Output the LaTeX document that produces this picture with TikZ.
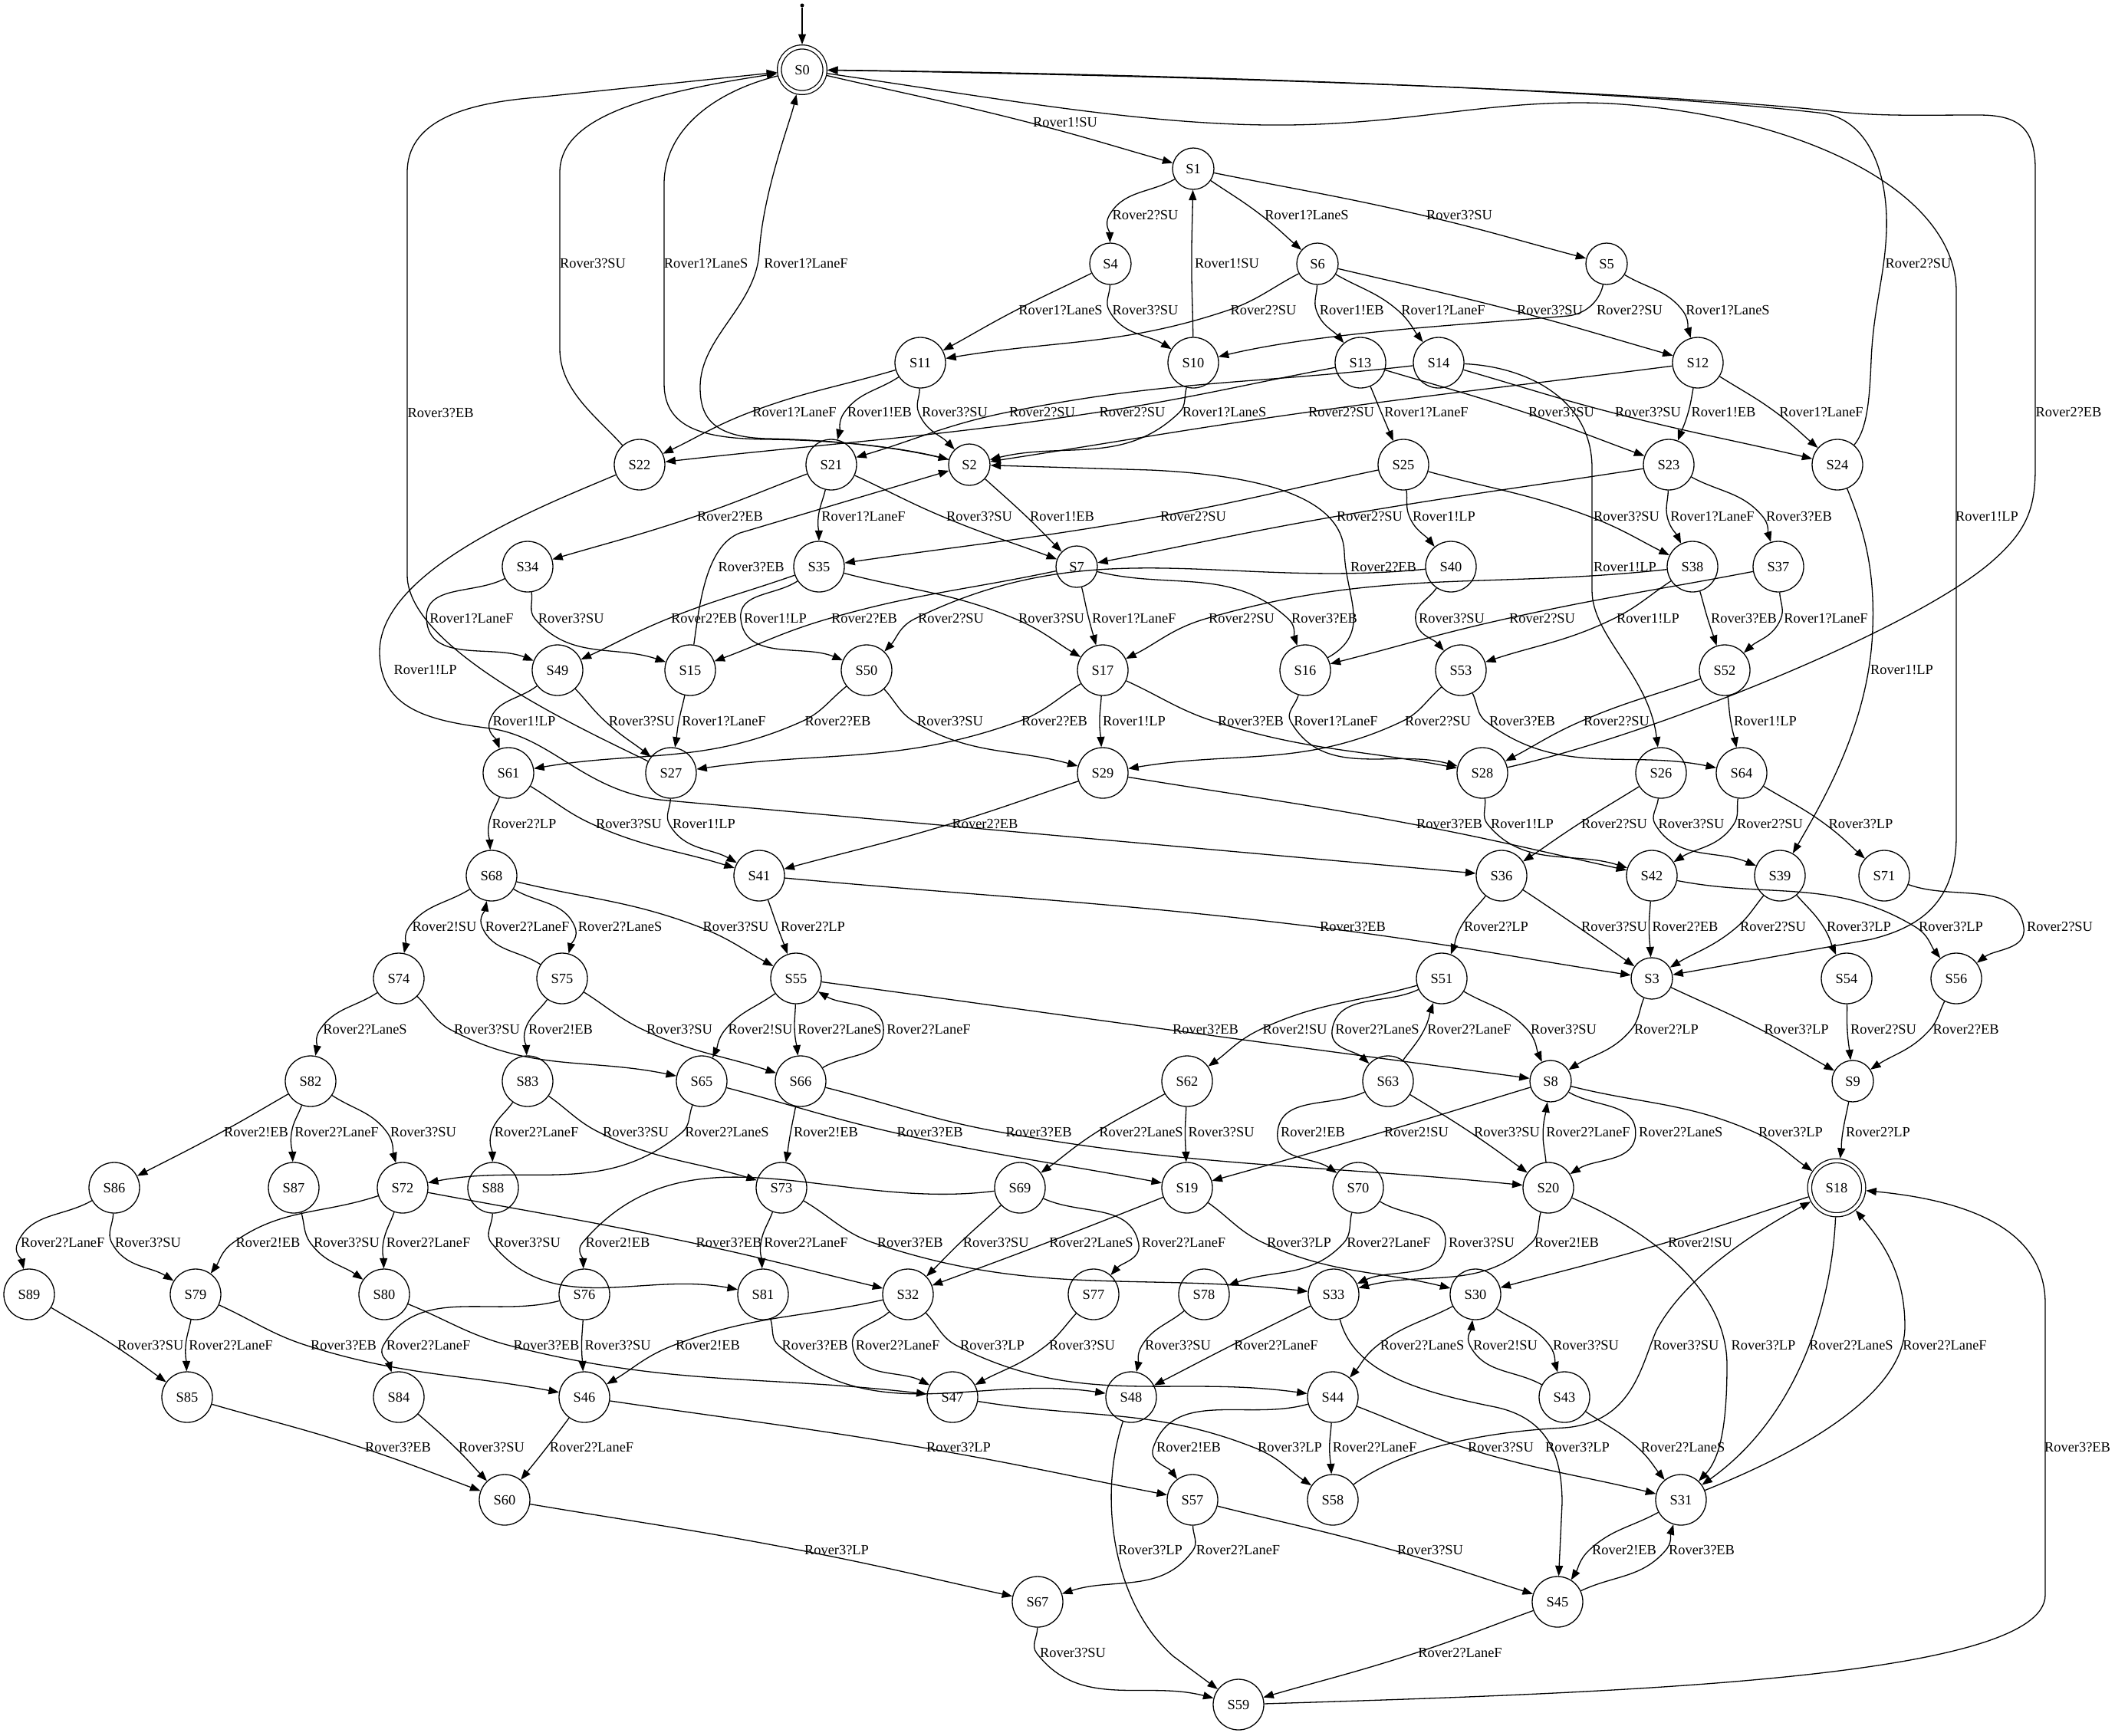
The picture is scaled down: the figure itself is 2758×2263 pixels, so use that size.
\documentclass[tikz,border=0pt]{standalone}
\usepackage{fontspec}
\setmainfont{Liberation Serif}
\usetikzlibrary{arrows.meta,calc}
\tikzset{
  st/.style={circle,draw,line width=1.3pt,minimum size=66pt,inner sep=0pt,fill=white},
  ss/.style={st,minimum size=54pt},
  dbl/.style={st,double,double distance=4pt,outer sep=3.3pt},
  lb/.style={inner sep=0pt},
  e/.style={line width=1.3pt,-{Triangle[length=13.5pt,width=10pt]}},
}
\newcommand\elab[3]{\node[lb] (#1) at (#2) {#3};}
\newcommand\ev[3]{%
  \draw[e] let \p1=($(#2.west)+(-4,0)$), \p2=(#1), \p3=(#3),
    \n1={atan2(\y1-\y2,\x1-\x2)}, \n2={atan2(\y3-\y1,\x3-\x1)},
    \n3={atan2(sin(\n1)+sin(\n2),cos(\n1)+cos(\n2))},
    \n4={\n3+180}, \n5={\n2+180}
  in (#1) to[out=\n1,in=\n4] (\p1) to[out=\n3,in=\n5] (#3);}
\begin{document}
\begin{tikzpicture}[x=1pt,y=-1pt,font=\fontsize{18.4}{22}\selectfont]
\useasboundingbox (0,0) rectangle (2758,2263);
% ---------------- nodes
\node[circle,fill,inner sep=0pt,minimum size=5pt] (start) at (1046,7) {};
\node[dbl,minimum size=59.4pt] (S0) at (1046,91) {S0};
\node[ss] (S1) at (1556,220) {S1};
\node[ss] (S4) at (1448,344) {S4};
\node[ss] (S6) at (1718,344) {S6};
\node[ss] (S5) at (2095,344) {S5};
\node[st] (S11) at (1200,473) {S11};
\node[st] (S10) at (1556,473) {S10};
\node[st] (S13) at (1774,473) {S13};
\node[st] (S14) at (1876,473) {S14};
\node[st] (S12) at (2214,473) {S12};
\node[st] (S22) at (834,606) {S22};
\node[st] (S21) at (1084,606) {S21};
\node[ss] (S2) at (1264,606) {S2};
\node[st] (S25) at (1830,606) {S25};
\node[st] (S23) at (2176,606) {S23};
\node[st] (S24) at (2396,606) {S24};
\node[st] (S34) at (688,739) {S34};
\node[st] (S35) at (1068,739) {S35};
\node[ss] (S7) at (1404,739) {S7};
\node[st] (S40) at (1892,739) {S40};
\node[st] (S38) at (2207,739) {S38};
\node[st] (S37) at (2319,739) {S37};
\node[st] (S49) at (727,874) {S49};
\node[st] (S15) at (900,874) {S15};
\node[st] (S50) at (1130,874) {S50};
\node[st] (S17) at (1438,874) {S17};
\node[st] (S16) at (1702,874) {S16};
\node[st] (S53) at (1905,874) {S53};
\node[st] (S52) at (2249,874) {S52};
\node[st] (S61) at (663,1008) {S61};
\node[st] (S27) at (875,1008) {S27};
\node[st] (S29) at (1438,1008) {S29};
\node[st] (S28) at (1933,1008) {S28};
\node[st] (S26) at (2166,1008) {S26};
\node[st] (S64) at (2271,1008) {S64};
\node[st] (S68) at (641,1142) {S68};
\node[st] (S41) at (990,1142) {S41};
\node[st] (S36) at (1958,1142) {S36};
\node[st] (S42) at (2154,1142) {S42};
\node[st] (S39) at (2321,1142) {S39};
\node[st] (S71) at (2457,1142) {S71};
\node[st] (S74) at (520,1276) {S74};
\node[st] (S75) at (733,1276) {S75};
\node[st] (S55) at (1038,1276) {S55};
\node[st] (S51) at (1880,1276) {S51};
\node[ss] (S3) at (2154,1276) {S3};
\node[st] (S54) at (2408,1276) {S54};
\node[st] (S56) at (2551,1276) {S56};
\node[st] (S82) at (405,1410) {S82};
\node[st] (S83) at (688,1410) {S83};
\node[st] (S65) at (915,1410) {S65};
\node[st] (S66) at (1044,1410) {S66};
\node[st] (S62) at (1548,1410) {S62};
\node[st] (S63) at (1810,1410) {S63};
\node[ss] (S8) at (2022,1410) {S8};
\node[ss] (S9) at (2416,1410) {S9};
\node[st] (S86) at (149,1549) {S86};
\node[st] (S87) at (383,1549) {S87};
\node[st] (S72) at (525,1549) {S72};
\node[st] (S88) at (643,1549) {S88};
\node[st] (S73) at (1019,1549) {S73};
\node[st] (S69) at (1330,1549) {S69};
\node[st] (S19) at (1548,1549) {S19};
\node[st] (S70) at (1771,1549) {S70};
\node[st] (S20) at (2019,1549) {S20};
\node[dbl,minimum size=70.4pt] (S18) at (2395,1549) {S18};
\node[st] (S89) at (38,1688) {S89};
\node[st] (S79) at (255,1688) {S79};
\node[st] (S80) at (501,1688) {S80};
\node[st] (S76) at (762,1688) {S76};
\node[st] (S81) at (995,1688) {S81};
\node[st] (S32) at (1184,1688) {S32};
\node[st] (S77) at (1426,1688) {S77};
\node[st] (S78) at (1570,1688) {S78};
\node[st] (S33) at (1739,1688) {S33};
\node[st] (S30) at (1924,1688) {S30};
\node[st] (S85) at (244,1822) {S85};
\node[st] (S84) at (520,1822) {S84};
\node[st] (S46) at (762,1822) {S46};
\node[st] (S47) at (1242,1822) {S47};
\node[st] (S48) at (1475,1822) {S48};
\node[st] (S44) at (1738,1822) {S44};
\node[st] (S43) at (2040,1822) {S43};
\node[st] (S60) at (658,1956) {S60};
\node[st] (S57) at (1555,1956) {S57};
\node[st] (S58) at (1738,1956) {S58};
\node[st] (S31) at (2192,1956) {S31};
\node[st] (S67) at (1353,2089) {S67};
\node[st] (S45) at (2031,2089) {S45};
\node[st] (S59) at (1615,2223) {S59};
% ---------------- labels
\elab{L1}{1389,160}{Rover1!SU}
\elab{L2}{773,344}{Rover3?SU}
\elab{L3}{920.6,344}{Rover1?LaneS}
\elab{L4}{1051,344}{Rover1?LaneF}
\elab{L5}{1493.5,281}{Rover2?SU}
\elab{L6}{1704,281}{Rover1?LaneS}
\elab{L7}{1903,281}{Rover3?SU}
\elab{L8}{1600,344}{Rover1!SU}
\elab{L9}{1383,405}{Rover1?LaneS}
\elab{L10}{1493.5,405}{Rover3?SU}
\elab{L11}{1647.5,405}{Rover2?SU}
\elab{L12}{1762.7,405}{Rover1!EB}
\elab{L13}{1882,405}{Rover1?LaneF}
\elab{L14}{2021,405}{Rover3?SU}
\elab{L15}{2125,405}{Rover2?SU}
\elab{L16}{2253,405}{Rover1?LaneS}
\elab{L17}{1036,538}{Rover1?LaneF}
\elab{L18}{1147,538}{Rover1!EB}
\elab{L19}{1245,538}{Rover3?SU}
\elab{L20}{1359,538}{Rover2?SU}
\elab{L21}{1476.5,538}{Rover2?SU}
\elab{L22}{1596.6,538}{Rover1?LaneS}
\elab{L23}{1749,538}{Rover2?SU}
\elab{L24}{1860,538}{Rover1?LaneF}
\elab{L25}{2036,538}{Rover3?SU}
\elab{L26}{2149,538}{Rover3?SU}
\elab{L27}{2247.5,538}{Rover1!EB}
\elab{L28}{2375,538}{Rover1?LaneF}
\elab{L29}{2697.5,538}{Rover2?EB}
\elab{L30}{2501.5,344}{Rover2?SU}
\elab{L31}{574.6,539}{Rover3?EB}
\elab{L32}{952,674}{Rover2?EB}
\elab{L33}{1126,674}{Rover1?LaneF}
\elab{L34}{1277,674}{Rover3?SU}
\elab{L35}{1385,674}{Rover1!EB}
\elab{L36}{1556,674}{Rover2?SU}
\elab{L37}{1786,674}{Rover2?SU}
\elab{L38}{1883,674}{Rover1!LP}
\elab{L39}{2121,674}{Rover3?SU}
\elab{L40}{2233,674}{Rover1?LaneF}
\elab{L41}{2346,674}{Rover3?EB}
\elab{L42}{2591,674}{Rover1!LP}
\elab{L43}{979.6,740}{Rover3?EB}
\elab{L44}{1804,740}{Rover2?EB}
\elab{L45}{2119,740}{Rover1!LP}
\elab{L46}{615,807}{Rover1?LaneF}
\elab{L47}{744.7,807}{Rover3?SU}
\elab{L48}{918,807}{Rover2?EB}
\elab{L49}{1011,807}{Rover1!LP}
\elab{L50}{1127,807}{Rover2?EB}
\elab{L51}{1240,807}{Rover2?SU}
\elab{L52}{1371,807}{Rover3?SU}
\elab{L53}{1478.75,807}{Rover1?LaneF}
\elab{L54}{1619,807}{Rover2?SU}
\elab{L55}{1727,807}{Rover3?EB}
\elab{L56}{1893,807}{Rover3?SU}
\elab{L57}{2011,807}{Rover2?SU}
\elab{L58}{2149,807}{Rover1!LP}
\elab{L59}{2274,807}{Rover3?EB}
\elab{L60}{2381,807}{Rover1?LaneF}
\elab{L61}{554.6,874}{Rover1!LP}
\elab{L62}{2480,874}{Rover1!LP}
\elab{L63}{683.5,941}{Rover1!LP}
\elab{L64}{836.7,941}{Rover3?SU}
\elab{L65}{944,941}{Rover1?LaneF}
\elab{L66}{1092.5,941}{Rover2?EB}
\elab{L67}{1239,941}{Rover3?SU}
\elab{L68}{1375,941}{Rover2?EB}
\elab{L69}{1479,941}{Rover1!LP}
\elab{L70}{1631,941}{Rover3?EB}
\elab{L71}{1742,941}{Rover1?LaneF}
\elab{L72}{1875,941}{Rover2?SU}
\elab{L73}{1985,941}{Rover3?EB}
\elab{L74}{2108,941}{Rover2?SU}
\elab{L75}{2302,941}{Rover1!LP}
\elab{L76}{683.5,1075}{Rover2?LP}
\elab{L77}{820,1075}{Rover3?SU}
\elab{L78}{918,1075}{Rover1!LP}
\elab{L79}{1284.5,1075}{Rover2?EB}
\elab{L80}{1890,1075}{Rover3?EB}
\elab{L81}{1985,1075}{Rover1!LP}
\elab{L82}{2105,1075}{Rover2?SU}
\elab{L83}{2205.5,1075}{Rover3?SU}
\elab{L84}{2308,1075}{Rover2?SU}
\elab{L85}{2426.5,1075}{Rover3?LP}
\elab{L86}{579.5,1209}{Rover2!SU}
\elab{L87}{687.6,1209}{Rover2?LaneF}
\elab{L88}{808.6,1209}{Rover2?LaneS}
\elab{L89}{959.5,1209}{Rover3?SU}
\elab{L90}{1060,1209}{Rover2?LP}
\elab{L91}{1764,1209}{Rover3?EB}
\elab{L92}{1951,1209}{Rover2?LP}
\elab{L93}{2105,1209}{Rover3?SU}
\elab{L94}{2197.5,1209}{Rover2?EB}
\elab{L95}{2312,1209}{Rover2?SU}
\elab{L96}{2424,1209}{Rover3?LP}
\elab{L97}{2544,1209}{Rover3?LP}
\elab{L98}{2686,1209}{Rover2?SU}
\elab{L99}{476,1343}{Rover2?LaneS}
\elab{L100}{635,1343}{Rover3?SU}
\elab{L101}{731,1343}{Rover2!EB}
\elab{L102}{886,1343}{Rover3?SU}
\elab{L103}{991.6,1343}{Rover2!SU}
\elab{L104}{1095,1343}{Rover2?LaneS}
\elab{L105}{1211,1343}{Rover2?LaneF}
\elab{L106}{1572,1343}{Rover3?EB}
\elab{L107}{1688.6,1343}{Rover2!SU}
\elab{L108}{1796,1343}{Rover2?LaneS}
\elab{L109}{1916,1343}{Rover2?LaneF}
\elab{L110}{2039,1343}{Rover3?SU}
\elab{L111}{2173,1343}{Rover2?LP}
\elab{L112}{2342.6,1343}{Rover3?LP}
\elab{L113}{2456,1343}{Rover2?SU}
\elab{L114}{2563.6,1343}{Rover2?EB}
\elab{L115}{334,1477}{Rover2!EB}
\elab{L116}{439,1477}{Rover2?LaneF}
\elab{L117}{552,1477}{Rover3?SU}
\elab{L118}{699.6,1477}{Rover2?LaneF}
\elab{L119}{829,1477}{Rover3?SU}
\elab{L120}{948,1477}{Rover2?LaneS}
\elab{L121}{1077,1477}{Rover2!EB}
\elab{L122}{1212.6,1477}{Rover3?EB}
\elab{L123}{1354.6,1477}{Rover3?EB}
\elab{L124}{1488,1477}{Rover2?LaneS}
\elab{L125}{1592.6,1477}{Rover3?SU}
\elab{L126}{1712,1477}{Rover2!EB}
\elab{L127}{1847,1477}{Rover2!SU}
\elab{L128}{1965,1477}{Rover3?SU}
\elab{L129}{2071,1477}{Rover2?LaneF}
\elab{L130}{2191.7,1477}{Rover2?LaneS}
\elab{L131}{2335,1477}{Rover3?LP}
\elab{L132}{2449,1477}{Rover2?LP}
\elab{L133}{81.7,1621}{Rover2?LaneF}
\elab{L134}{193,1621}{Rover3?SU}
\elab{L135}{349.6,1621}{Rover2!EB}
\elab{L136}{452,1621}{Rover3?SU}
\elab{L137}{558.6,1621}{Rover2?LaneF}
\elab{L138}{688,1621}{Rover3?SU}
\elab{L139}{805.4,1621}{Rover2!EB}
\elab{L140}{950.5,1621}{Rover3?EB}
\elab{L141}{1051,1621}{Rover2?LaneF}
\elab{L142}{1186.7,1621}{Rover3?EB}
\elab{L143}{1298.8,1621}{Rover3?SU}
\elab{L144}{1423,1621}{Rover2?LaneS}
\elab{L145}{1543.5,1621}{Rover2?LaneF}
\elab{L146}{1694,1621}{Rover3?LP}
\elab{L147}{1811,1621}{Rover2?LaneF}
\elab{L148}{1932,1621}{Rover3?SU}
\elab{L149}{2043,1621}{Rover2!EB}
\elab{L150}{2217,1621}{Rover2!SU}
\elab{L151}{196.4,1755}{Rover3?SU}
\elab{L152}{301,1755}{Rover2?LaneF}
\elab{L153}{448,1755}{Rover3?EB}
\elab{L154}{558.6,1755}{Rover2?LaneF}
\elab{L155}{712.5,1755}{Rover3?EB}
\elab{L156}{805.6,1755}{Rover3?SU}
\elab{L157}{923,1755}{Rover2!EB}
\elab{L158}{1062.6,1755}{Rover3?EB}
\elab{L159}{1170.6,1755}{Rover2?LaneF}
\elab{L160}{1294,1755}{Rover3?LP}
\elab{L161}{1411,1755}{Rover3?SU}
\elab{L162}{1536,1755}{Rover3?SU}
\elab{L163}{1664,1755}{Rover2?LaneF}
\elab{L164}{1854.6,1755}{Rover2?LaneS}
\elab{L165}{1963,1755}{Rover2!SU}
\elab{L166}{2068,1755}{Rover3?SU}
\elab{L167}{2198.5,1755}{Rover3?SU}
\elab{L168}{2299.5,1755}{Rover3?LP}
\elab{L169}{2414,1755}{Rover2?LaneS}
\elab{L170}{2536,1755}{Rover2?LaneF}
\elab{L171}{519,1888}{Rover3?EB}
\elab{L172}{641,1888}{Rover3?SU}
\elab{L173}{771.5,1888}{Rover2?LaneF}
\elab{L174}{1250,1888}{Rover3?LP}
\elab{L175}{1550,1888}{Rover2!EB}
\elab{L176}{1682,1888}{Rover3?LP}
\elab{L177}{1792.6,1888}{Rover2?LaneF}
\elab{L178}{1957,1888}{Rover3?SU}
\elab{L179}{2057,1888}{Rover3?LP}
\elab{L180}{2194.6,1888}{Rover2?LaneS}
\elab{L181}{2709,1888}{Rover3?EB}
\elab{L182}{1091,2022}{Rover3?LP}
\elab{L183}{1500,2022}{Rover3?LP}
\elab{L184}{1614.5,2022}{Rover2?LaneF}
\elab{L185}{1865,2022}{Rover3?SU}
\elab{L186}{2118,2022}{Rover2!EB}
\elab{L187}{2219,2022}{Rover3?EB}
\elab{L188}{1399,2156}{Rover3?SU}
\elab{L189}{1904,2156}{Rover2?LaneF}
% ---------------- long edges
\draw[e] (start) -- (S0);
\draw[e] (S22) .. controls (780,545) and (730,510) .. (730,455) -- (730,225) .. controls (730,160) and (820,125) .. (S0);
\draw[e] (S0) .. controls (930,120) and (866,170) .. (866,240) -- (866,500) .. controls (866,560) and (920,572) .. (1000,573) .. controls (1100,574) and (1180,585) .. (S2);
\draw[e] (S2) .. controls (1180,585) and (1100,574) .. (1000,572) .. controls (930,570) and (913,545) .. (913,505) .. controls (913,440) and (985,400) .. (990,330) .. controls (995,250) and (1030,160) .. (S0);
\draw[e] (S27) .. controls (780,960) and (531,850) .. (531,750) -- (531,225) .. controls (531,160) and (600,135) .. (700,127) -- (S0);
\draw[e] (S28) .. controls (2150,960) and (2500,820) .. (2600,730) .. controls (2645,690) and (2654,660) .. (2654,610) -- (2654,220) .. controls (2654,165) and (2630,150) .. (2580,150) .. controls (2500,150) and (2450,152) .. (2390,145) .. controls (2100,115) and (1500,98) .. (S0);
\draw[e] (S24) .. controls (2435,560) and (2438,520) .. (2440,470) .. controls (2443,400) and (2458,360) .. (2460,300) .. controls (2462,230) and (2440,160) .. (2380,148) .. controls (2100,115) and (1500,96) .. (S0);
\draw[e] (S0) .. controls (1300,128) and (1500,165) .. (1680,163) .. controls (1850,161) and (1950,128) .. (2100,135) .. controls (2350,150) and (2551,250) .. (2551,380) -- (2551,1090) .. controls (2551,1180) and (2500,1210) .. (2440,1225) -- (S3);
\draw[e] (S22) .. controls (720,655) and (495,740) .. (495,850) .. controls (495,925) and (560,940) .. (640,950) .. controls (720,962) and (760,1030) .. (860,1043) -- (S36);
\draw[e] (S14) .. controls (1990,478) and (2076,520) .. (2076,610) -- (2076,770) .. controls (2076,830) and (2150,880) .. (S26);
\draw[e] (S24) .. controls (2430,690) and (2445,740) .. (2442,820) .. controls (2438,940) and (2380,1040) .. (S39);
\draw[e] (S59) .. controls (2100,2208) and (2667,2190) .. (2667,2080) -- (2667,1700) .. controls (2667,1600) and (2560,1565) .. (S18);
\draw[e] (S20) .. controls (2150,1605) and (2252,1680) .. (2252,1780) .. controls (2252,1850) and (2245,1900) .. (S31);
\draw[e] (S58) .. controls (1800,1910) and (1880,1870) .. (2040,1862) .. controls (2130,1855) and (2140,1780) .. (2160,1735) .. controls (2200,1660) and (2300,1600) .. (S18);
\draw[e] (S33) .. controls (1765,1790) and (1850,1815) .. (1950,1835) .. controls (2020,1850) and (2037,1900) .. (2037,1960) -- (S45);
\draw[e] (S48) .. controls (1432,1950) and (1450,2090) .. (1530,2160) -- (S59);
\draw[e] (S18) .. controls (2390,1680) and (2355,1840) .. (S31);
\draw[e] (S31) .. controls (2370,1885) and (2484,1810) .. (2484,1730) .. controls (2484,1660) and (2455,1620) .. (S18);
\draw[e] (S15) .. controls (912,790) and (920,712) .. (965,695) -- (S2);
\draw[e] (S16) .. controls (1790,825) and (1755,780) .. (1753,720) .. controls (1750,650) and (1650,620) .. (1500,613) -- (S2);
\draw[e] (S5) .. controls (2088,385) and (2075,408) .. (2045,412) .. controls (1900,424) and (1720,434) .. (S10);
% ---------------- edges
\ev{S0}{L1}{S1}
\ev{S1}{L5}{S4}
\ev{S1}{L6}{S6}
\ev{S1}{L7}{S5}
\ev{S10}{L8}{S1}
\ev{S4}{L9}{S11}
\ev{S4}{L10}{S10}
\ev{S6}{L11}{S11}
\ev{S6}{L12}{S13}
\ev{S6}{L13}{S14}
\ev{S6}{L14}{S12}
\ev{S5}{L16}{S12}
\ev{S11}{L17}{S22}
\ev{S11}{L18}{S21}
\ev{S11}{L19}{S2}
\ev{S14}{L20}{S21}
\ev{S13}{L21}{S22}
\ev{S10}{L22}{S2}
\ev{S12}{L23}{S2}
\ev{S13}{L24}{S25}
\ev{S13}{L25}{S23}
\ev{S14}{L26}{S24}
\ev{S12}{L27}{S23}
\ev{S12}{L28}{S24}
\ev{S21}{L32}{S34}
\ev{S21}{L33}{S35}
\ev{S21}{L34}{S7}
\ev{S2}{L35}{S7}
\ev{S25}{L36}{S35}
\ev{S23}{L37}{S7}
\ev{S25}{L38}{S40}
\ev{S25}{L39}{S38}
\ev{S23}{L40}{S38}
\ev{S23}{L41}{S37}
\ev{S34}{L46}{S49}
\ev{S34}{L47}{S15}
\ev{S35}{L48}{S49}
\ev{S35}{L49}{S50}
\ev{S7}{L50}{S15}
\ev{S40}{L51}{S50}
\ev{S35}{L52}{S17}
\ev{S7}{L53}{S17}
\ev{S38}{L54}{S17}
\ev{S7}{L55}{S16}
\ev{S40}{L56}{S53}
\ev{S37}{L57}{S16}
\ev{S38}{L58}{S53}
\ev{S38}{L59}{S52}
\ev{S37}{L60}{S52}
\ev{S49}{L63}{S61}
\ev{S49}{L64}{S27}
\ev{S15}{L65}{S27}
\ev{S50}{L66}{S61}
\ev{S50}{L67}{S29}
\ev{S17}{L68}{S27}
\ev{S17}{L69}{S29}
\ev{S17}{L70}{S28}
\ev{S16}{L71}{S28}
\ev{S53}{L72}{S29}
\ev{S53}{L73}{S64}
\ev{S52}{L74}{S28}
\ev{S52}{L75}{S64}
\ev{S61}{L76}{S68}
\ev{S61}{L77}{S41}
\ev{S27}{L78}{S41}
\ev{S29}{L79}{S41}
\ev{S29}{L80}{S42}
\ev{S28}{L81}{S42}
\ev{S26}{L82}{S36}
\ev{S26}{L83}{S39}
\ev{S64}{L84}{S42}
\ev{S64}{L85}{S71}
\ev{S68}{L86}{S74}
\ev{S75}{L87}{S68}
\ev{S68}{L88}{S75}
\ev{S68}{L89}{S55}
\ev{S41}{L90}{S55}
\ev{S41}{L91}{S3}
\ev{S36}{L92}{S51}
\ev{S36}{L93}{S3}
\ev{S42}{L94}{S3}
\ev{S39}{L95}{S3}
\ev{S39}{L96}{S54}
\ev{S42}{L97}{S56}
\ev{S71}{L98}{S56}
\ev{S74}{L99}{S82}
\ev{S74}{L100}{S65}
\ev{S75}{L101}{S83}
\ev{S75}{L102}{S66}
\ev{S55}{L103}{S65}
\ev{S55}{L104}{S66}
\ev{S66}{L105}{S55}
\ev{S55}{L106}{S8}
\ev{S51}{L107}{S62}
\ev{S51}{L108}{S63}
\ev{S63}{L109}{S51}
\ev{S51}{L110}{S8}
\ev{S3}{L111}{S8}
\ev{S3}{L112}{S9}
\ev{S54}{L113}{S9}
\ev{S56}{L114}{S9}
\ev{S82}{L115}{S86}
\ev{S82}{L116}{S87}
\ev{S82}{L117}{S72}
\ev{S83}{L118}{S88}
\ev{S83}{L119}{S73}
\ev{S65}{L120}{S72}
\ev{S66}{L121}{S73}
\ev{S65}{L122}{S19}
\ev{S66}{L123}{S20}
\ev{S62}{L124}{S69}
\ev{S62}{L125}{S19}
\ev{S63}{L126}{S70}
\ev{S8}{L127}{S19}
\ev{S63}{L128}{S20}
\ev{S20}{L129}{S8}
\ev{S8}{L130}{S20}
\ev{S8}{L131}{S18}
\ev{S9}{L132}{S18}
\ev{S86}{L133}{S89}
\ev{S86}{L134}{S79}
\ev{S72}{L135}{S79}
\ev{S87}{L136}{S80}
\ev{S72}{L137}{S80}
\ev{S88}{L138}{S81}
\ev{S69}{L139}{S76}
\ev{S72}{L140}{S32}
\ev{S73}{L141}{S81}
\ev{S73}{L142}{S33}
\ev{S69}{L143}{S32}
\ev{S19}{L144}{S32}
\ev{S69}{L145}{S77}
\ev{S19}{L146}{S30}
\ev{S70}{L147}{S78}
\ev{S70}{L148}{S33}
\ev{S20}{L149}{S33}
\ev{S18}{L150}{S30}
\ev{S89}{L151}{S85}
\ev{S79}{L152}{S85}
\ev{S79}{L153}{S46}
\ev{S76}{L154}{S84}
\ev{S80}{L155}{S47}
\ev{S76}{L156}{S46}
\ev{S32}{L157}{S46}
\ev{S81}{L158}{S48}
\ev{S32}{L159}{S47}
\ev{S32}{L160}{S44}
\ev{S77}{L161}{S47}
\ev{S78}{L162}{S48}
\ev{S33}{L163}{S48}
\ev{S30}{L164}{S44}
\ev{S43}{L165}{S30}
\ev{S30}{L166}{S43}
\ev{S85}{L171}{S60}
\ev{S84}{L172}{S60}
\ev{S46}{L173}{S60}
\ev{S46}{L174}{S57}
\ev{S44}{L175}{S57}
\ev{S47}{L176}{S58}
\ev{S44}{L177}{S58}
\ev{S44}{L178}{S31}
\ev{S43}{L180}{S31}
\ev{S60}{L182}{S67}
\ev{S57}{L184}{S67}
\ev{S57}{L185}{S45}
\ev{S31}{L186}{S45}
\ev{S45}{L187}{S31}
\ev{S67}{L188}{S59}
\ev{S45}{L189}{S59}
\end{tikzpicture}
\end{document}
